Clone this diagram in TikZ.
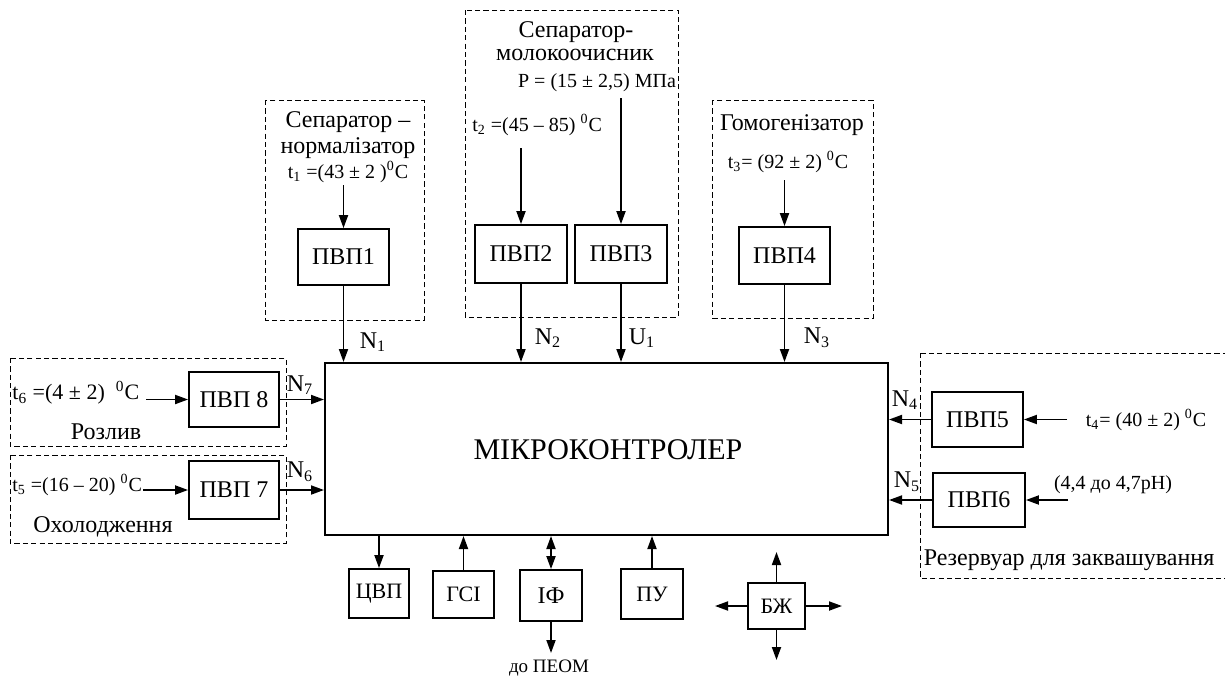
\documentclass[tikz,border=0pt]{standalone}
\usepackage{fontspec}
\setmainfont{Liberation Serif}
\usetikzlibrary{arrows.meta}
\begin{document}
\begin{tikzpicture}[x=0.5pt,y=-0.5pt,
  every node/.style={font=\fontsize{12}{14}\selectfont, inner sep=0pt},
  sbox/.style={draw, line width=0.9pt, inner sep=0pt},
  small/.style={font=\fontsize{11}{13}\selectfont},
  param/.style={font=\fontsize{10}{12}\selectfont},
  dbox/.style={draw, line width=0.5pt, dash pattern=on 2.6pt off 1.6pt},
  arr/.style={-{Triangle[length=6.5pt,width=4.5pt]}, line width=0.9pt},
  darr/.style={{Triangle[length=6.5pt,width=4.5pt]}-{Triangle[length=6.5pt,width=4.5pt]}, line width=0.9pt}
]
\useasboundingbox (0,0) rectangle (1225,680);

% dashed groups
\draw[dbox] (265,100) rectangle (424,320);
\draw[dbox] (465,10) rectangle (678,317);
\draw[dbox] (712,100) rectangle (873,318);
\draw[dbox] (10,358) rectangle (286,446);
\draw[dbox] (10,455) rectangle (286,543);
\draw[dbox] (920,353) rectangle (1227,578);

% main block
\node[sbox, line width=1pt, minimum width=281.5pt, minimum height=86pt] (main) at (606.5,449) {};
\node[font=\fontsize{15}{17}\selectfont] (mtxt) at (608,450) {МІКРОКОНТРОЛЕР};

% sensor boxes
\node[sbox, minimum width=45.5pt, minimum height=28pt] (p1) at (343.5,257) {ПВП1};
\node[sbox, minimum width=46pt, minimum height=29pt] (p2) at (521,254) {ПВП2};
\node[sbox, minimum width=46pt, minimum height=29pt] (p3) at (621,254) {ПВП3};
\node[sbox, minimum width=45.5pt, minimum height=28.5pt] (p4) at (784.5,255.5) {ПВП4};
\node[sbox, minimum width=45pt, minimum height=27.5pt] (p8) at (234,399.5) {ПВП 8};
\node[sbox, minimum width=45pt, minimum height=29pt] (p7) at (234,490) {ПВП 7};
\node[sbox, minimum width=45.5pt, minimum height=27.5pt] (p5) at (977.5,419.5) {ПВП5};
\node[sbox, minimum width=46pt, minimum height=27pt] (p6) at (979,500) {ПВП6};

% bottom boxes
\node[sbox, small, minimum width=30pt, minimum height=24.5pt] (cvp) at (379,593.5) {ЦВП};
\node[sbox, small, minimum width=30.5pt, minimum height=23.5pt] (gsi) at (463.5,594.5) {ГСІ};
\node[sbox, minimum width=31pt, minimum height=25.5pt] (if) at (551,595.5) {ІФ};
\node[sbox, small, minimum width=31pt, minimum height=25pt] (pu) at (652,594) {ПУ};
\node[sbox, small, minimum width=28.5pt, minimum height=23pt] (bzh) at (776.5,606) {БЖ};

% texts
\node (s1a) at (348,122) {Сепаратор –};
\node (s1b) at (348,148) {нормалізатор};
\node[param] (t1) at (348,172) {t\textsubscript{1} =(43 ± 2 )\textsuperscript{0}C};
\node (s2a) at (576,32) {Сепаратор-};
\node (s2b) at (575,55) {молокоочисник};
\node[param] (pp) at (597,83) {P = (15 ± 2,5) МПа};
\node[param, anchor=west] (t2) at (472,125) {t\textsubscript{2} =(45 – 85) \textsuperscript{0}C};
\node (s3) at (792,125) {Гомогенізатор};
\node[param] (t3) at (788,162) {t\textsubscript{3}= (92 ± 2) \textsuperscript{0}C};
\node[small, anchor=west] (t6) at (12,393) {t\textsubscript{6} =(4 ± 2) \ \textsuperscript{0}C};
\node (rz) at (106,432) {Розлив};
\node[param, anchor=west] (t5) at (12,485) {t\textsubscript{5} =(16 – 20) \textsuperscript{0}C};
\node (oh) at (103,527) {Охолодження};
\node[param] (t4) at (1146,420) {t\textsubscript{4}= (40 ± 2) \textsuperscript{0}C};
\node[param] (ph) at (1113,485) {(4,4 до 4,7pH)};
\node (rv) at (1069,560) {Резервуар для заквашування};
\node[font=\fontsize{9.5}{11}\selectfont] (peom) at (549,668) {до ПЕОМ};

% signal labels
\node (n1) at (373,342) {N\textsubscript{1}};
\node (n2) at (548,338) {N\textsubscript{2}};
\node (u1) at (642,338) {U\textsubscript{1}};
\node (n3) at (817,338) {N\textsubscript{3}};
\node (n7) at (300,385) {N\textsubscript{7}};
\node (n6) at (300,472) {N\textsubscript{6}};
\node (n4) at (905,400) {N\textsubscript{4}};
\node (n5) at (907,482) {N\textsubscript{5}};

% free ends
\coordinate (c1) at (343.5,185);
\coordinate (c2) at (521,148);
\coordinate (c3) at (621,98);
\coordinate (c4) at (784.5,180);
\coordinate (c8) at (146,399.5);
\coordinate (c7) at (143,490);
\coordinate (c5) at (1067,419.5);
\coordinate (c6) at (1068,500);
\coordinate (cpe) at (551,653);
\coordinate (bu) at (776.5,552);
\coordinate (bd) at (776.5,660);
\coordinate (bl) at (715,606);
\coordinate (br) at (842,606);

% input arrows
\draw[arr] (c1) -- (p1.north);
\draw[arr] (c2) -- (p2.north);
\draw[arr] (c3) -- (p3.north);
\draw[arr] (c4) -- (p4.north);
\draw[arr] (c8) -- (p8.west);
\draw[arr] (c7) -- (p7.west);
\draw[arr] (c5) -- (p5.east);
\draw[arr] (c6) -- (p6.east);

% outputs to controller
\draw[arr] (p1.south) -- (p1.south |- main.north);
\draw[arr] (p2.south) -- (p2.south |- main.north);
\draw[arr] (p3.south) -- (p3.south |- main.north);
\draw[arr] (p4.south) -- (p4.south |- main.north);
\draw[arr] (p8.east) -- (p8.east -| main.west);
\draw[arr] (p7.east) -- (p7.east -| main.west);
\draw[arr] (p5.west) -- (p5.west -| main.east);
\draw[arr] (p6.west) -- (p6.west -| main.east);

% bottom connections
\draw[arr] (cvp.north |- main.south) -- (cvp.north);
\draw[arr] (gsi.north) -- (gsi.north |- main.south);
\draw[darr] (if.north |- main.south) -- (if.north);
\draw[arr] (if.south) -- (cpe);
\draw[arr] (pu.north) -- (pu.north |- main.south);
\draw[arr] (bzh.north) -- (bu);
\draw[arr] (bzh.south) -- (bd);
\draw[arr] (bzh.west) -- (bl);
\draw[arr] (bzh.east) -- (br);
\end{tikzpicture}
\end{document}
